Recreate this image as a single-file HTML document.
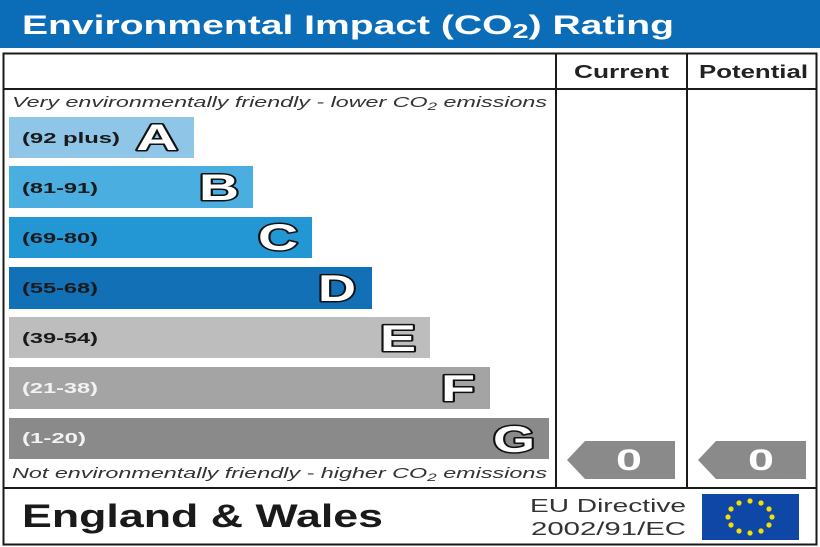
<!DOCTYPE html>
<html><head><meta charset="utf-8"><style>
html,body{margin:0;padding:0;background:#fff;}
svg{display:block;}
text{font-family:"Liberation Sans",Arial,sans-serif;}
</style></head><body>
<svg width="820" height="547" viewBox="0 0 820 547" xmlns="http://www.w3.org/2000/svg">
<rect x="0" y="0" width="820" height="547" fill="#fff"/>
<!-- header band -->
<rect x="0" y="0" width="820" height="48" fill="#0b6db7"/>
<text x="22" y="34" font-size="27" font-weight="bold" fill="#fff" textLength="652" lengthAdjust="spacingAndGlyphs">Environmental Impact (CO<tspan font-size="20" dy="4">2</tspan><tspan dy="-4">) Rating</tspan></text>
<!-- frame -->
<rect x="3.5" y="53.5" width="813" height="491" fill="none" stroke="#1a1a1a" stroke-width="2"/>
<line x1="3" y1="89" x2="817" y2="89" stroke="#1a1a1a" stroke-width="2"/>
<line x1="556" y1="53" x2="556" y2="488" stroke="#1a1a1a" stroke-width="2"/>
<line x1="687" y1="53" x2="687" y2="488" stroke="#1a1a1a" stroke-width="2"/>
<line x1="3" y1="488" x2="817" y2="488" stroke="#1a1a1a" stroke-width="2"/>
<!-- column headers -->
<text x="574" y="78" font-size="18" font-weight="bold" fill="#222" textLength="95" lengthAdjust="spacingAndGlyphs">Current</text>
<text x="699" y="78" font-size="18" font-weight="bold" fill="#222" textLength="109" lengthAdjust="spacingAndGlyphs">Potential</text>
<!-- top italic -->
<text x="12" y="107" font-size="15" font-style="italic" fill="#333" textLength="535" lengthAdjust="spacingAndGlyphs">Very environmentally friendly - lower CO<tspan font-size="11" dy="3">2</tspan><tspan dy="-3"> emissions</tspan></text>
<!-- bars -->
<g>
<rect x="9" y="117" width="185" height="41" fill="#8fc6e7"/>
<rect x="9" y="166" width="244" height="42" fill="#4aaee0"/>
<rect x="9" y="217" width="303" height="41" fill="#2297d4"/>
<rect x="9" y="267" width="363" height="42" fill="#1270b7"/>
<rect x="9" y="317" width="421" height="41" fill="#bdbdbd"/>
<rect x="9" y="367" width="481" height="42" fill="#a4a4a4"/>
<rect x="9" y="418" width="540" height="41" fill="#8a8a8a"/>
</g>
<g font-size="15" font-weight="bold">
<text x="22" y="143" fill="#1a1a1a" textLength="98" lengthAdjust="spacingAndGlyphs">(92 plus)</text>
<text x="22" y="193" fill="#1a1a1a" textLength="76" lengthAdjust="spacingAndGlyphs">(81-91)</text>
<text x="22" y="243" fill="#1a1a1a" textLength="76" lengthAdjust="spacingAndGlyphs">(69-80)</text>
<text x="22" y="293" fill="#1a1a1a" textLength="76" lengthAdjust="spacingAndGlyphs">(55-68)</text>
<text x="22" y="343" fill="#1a1a1a" textLength="76" lengthAdjust="spacingAndGlyphs">(39-54)</text>
<text x="22" y="393" fill="#f2f2f2" textLength="76" lengthAdjust="spacingAndGlyphs">(21-38)</text>
<text x="22" y="443" fill="#f2f2f2" textLength="64" lengthAdjust="spacingAndGlyphs">(1-20)</text>
</g>
<g font-size="37" font-weight="bold" fill="#fff" stroke="#111" stroke-width="3" paint-order="stroke" stroke-linejoin="round">
<text x="136" y="150" textLength="42" lengthAdjust="spacingAndGlyphs">A</text>
<text x="199" y="200" textLength="40" lengthAdjust="spacingAndGlyphs">B</text>
<text x="258" y="250" textLength="40" lengthAdjust="spacingAndGlyphs">C</text>
<text x="318" y="301" textLength="38" lengthAdjust="spacingAndGlyphs">D</text>
<text x="380" y="351" textLength="36" lengthAdjust="spacingAndGlyphs">E</text>
<text x="441" y="401" textLength="34" lengthAdjust="spacingAndGlyphs">F</text>
<text x="493" y="452" textLength="42" lengthAdjust="spacingAndGlyphs">G</text>
</g>
<!-- bottom italic -->
<text x="12" y="478" font-size="15" font-style="italic" fill="#333" textLength="535" lengthAdjust="spacingAndGlyphs">Not environmentally friendly - higher CO<tspan font-size="11" dy="3">2</tspan><tspan dy="-3"> emissions</tspan></text>
<!-- arrows -->
<polygon points="567,460 585,441 675,441 675,479 585,479" fill="#8a8a8a"/>
<polygon points="698,460 716,441 806,441 806,479 716,479" fill="#8a8a8a"/>
<text x="629" y="470" font-size="30" font-weight="bold" fill="#fff" text-anchor="middle" textLength="26" lengthAdjust="spacingAndGlyphs">0</text>
<text x="761" y="470" font-size="30" font-weight="bold" fill="#fff" text-anchor="middle" textLength="26" lengthAdjust="spacingAndGlyphs">0</text>
<!-- footer -->
<text x="22" y="527" font-size="32" font-weight="bold" fill="#1a1a1a" textLength="361" lengthAdjust="spacingAndGlyphs">England &amp; Wales</text>
<text x="530" y="512" font-size="18" fill="#333" textLength="156" lengthAdjust="spacingAndGlyphs">EU Directive</text>
<text x="531" y="535" font-size="18" fill="#333" textLength="155" lengthAdjust="spacingAndGlyphs">2002/91/EC</text>
<rect x="702" y="494" width="97" height="46" fill="#0f47a6"/>
<g fill="#f4e000">
<circle cx="750" cy="501" r="2.6"/>
<circle cx="761" cy="503" r="2.6"/>
<circle cx="769" cy="509" r="2.6"/>
<circle cx="772" cy="517" r="2.6"/>
<circle cx="769" cy="525" r="2.6"/>
<circle cx="761" cy="531" r="2.6"/>
<circle cx="750" cy="533" r="2.6"/>
<circle cx="739" cy="531" r="2.6"/>
<circle cx="731" cy="525" r="2.6"/>
<circle cx="728" cy="517" r="2.6"/>
<circle cx="731" cy="509" r="2.6"/>
<circle cx="739" cy="503" r="2.6"/>
</g>
</svg>
</body></html>
